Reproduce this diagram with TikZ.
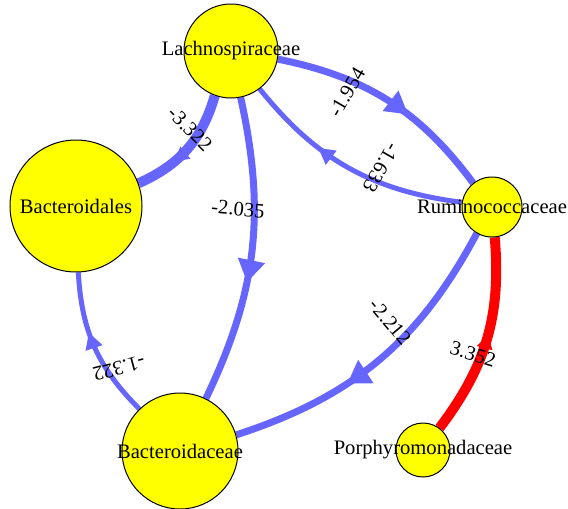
\documentclass[tikz,border=0pt]{standalone}
\usepackage{fontspec}
\setmainfont{Liberation Serif}
\usetikzlibrary{arrows.meta}
\usetikzlibrary{decorations.markings}
\usetikzlibrary{backgrounds}

\definecolor{negblue}{RGB}{102,102,255}
\definecolor{taxyellow}{RGB}{255,255,0}

\tikzset{
  taxon/.style={circle, draw=black, fill=taxyellow, inner sep=0pt, line width=0.5pt},
  taxname/.style={anchor=base, inner sep=0pt},
  weight/.style={inner sep=0pt},
  negedge/.style={negblue},
  posedge/.style={red},
  midtip/.style 2 args={postaction={decorate}, decoration={markings, mark=at position #1 with {\arrow{Triangle[#2, line width=0pt]}}}}
}

\begin{document}
\begin{tikzpicture}[x=0.5pt, y=0.5pt, font=\fontsize{10.3}{12}\selectfont]
\useasboundingbox (0,0) rectangle (568,-509);

% taxa
\node[taxon, minimum size=47pt, label={[taxname]center:Lachnospiraceae}] (lach) at (231,-51) {};
\node[taxon, minimum size=66pt, label={[taxname]center:Bacteroidales}] (bales) at (76,-206) {};
\node[taxon, minimum size=58pt, label={[taxname]center:Bacteroidaceae}] (bdaceae) at (180,-451) {};
\node[taxon, minimum size=30pt, label={[taxname]center:Ruminococcaceae}] (rumin) at (492,-207) {};
\node[taxon, minimum size=27pt, label={[taxname]center:Porphyromonadaceae}] (porph) at (423,-450) {};

% associations
\begin{scope}[on background layer]
\draw[negedge, line width=5pt, midtip={0.65}{width=8pt,length=7pt}] (lach) to[bend left=25] (bales);
\draw[negedge, line width=3.5pt, midtip={0.6}{width=13pt,length=11pt}] (lach) to[bend left=21] (rumin);
\draw[negedge, line width=2.5pt, midtip={0.65}{width=9pt,length=8pt}] (rumin) to[bend left=22] (lach);
\draw[negedge, line width=3.5pt, midtip={0.6}{width=14pt,length=11pt}] (lach) to[bend left=19] (bdaceae);
\draw[negedge, line width=2.5pt, midtip={0.6}{width=9pt,length=8pt}] (bdaceae) to[bend left=21] (bales);
\draw[negedge, line width=3.5pt, midtip={0.62}{width=14pt,length=11pt}] (rumin) to[bend left=22] (bdaceae);
\draw[posedge, line width=5pt, midtip={0.52}{width=8pt,length=7pt}] (porph) to[bend right=21] (rumin);
\end{scope}

% weights
\node[weight, rotate=-45] (w3322) at (190,-129) {-3.322};
\node[weight, rotate=60] (w1954) at (347,-92) {-1.954};
\node[weight, rotate=-120] (w1633) at (381,-168) {-1.633};
\node[weight, rotate=-5] (w2035) at (238,-209) {-2.035};
\node[weight, rotate=195] (w1322) at (119,-368) {-1.322};
\node[weight, rotate=-50] (w2212) at (390,-322) {-2.212};
\node[weight, rotate=-17] (w3352) at (473,-354) {3.352};

\end{tikzpicture}
\end{document}
